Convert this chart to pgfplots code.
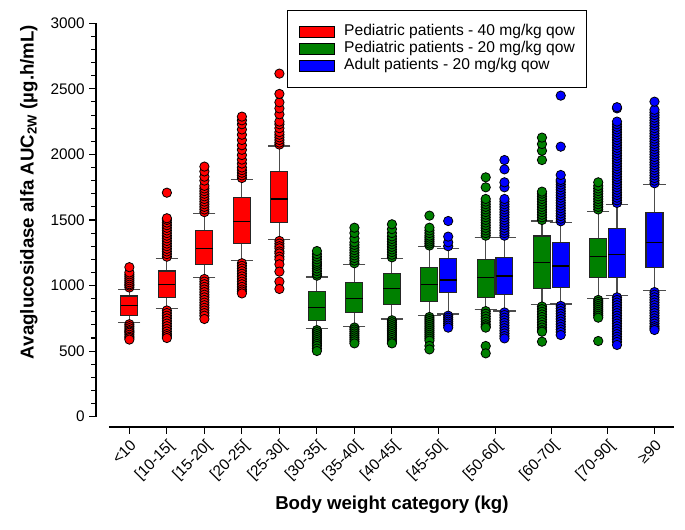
\documentclass[border=0pt]{standalone}
\usepackage{fontspec}
\setmainfont{Liberation Sans}
\usepackage{pgfplots}
\pgfplotsset{compat=1.18}
\usepgfplotslibrary{statistics}
\definecolor{cred}{RGB}{255,0,0}
\definecolor{cgreen}{RGB}{0,128,0}
\definecolor{cblue}{RGB}{0,0,255}
\pgfplotsset{
  bx/.style={draw=black!85, line width=0.8pt, fill=#1, mark=*, mark size=3.5pt,
    mark options={fill=#1, draw=black, line width=0.6pt, solid},
    boxplot/draw direction=y,
    boxplot/box extend=0.453, boxplot/whisker extend=0.59,
    boxplot/every median/.style={black, line width=0.8pt},
    boxplot/every whisker/.style={black!70, line width=0.8pt},
    forget plot},
}
\begin{document}
\begin{tikzpicture}
\begin{axis}[
  at={(72pt,77.25pt)}, anchor=south west,
  scale only axis, width=433.5pt, height=302.8pt,
  xmin=-0.89, xmax=14.52, ymin=-78.6, ymax=3000,
  axis x line*=bottom, axis y line*=left,
  axis line style={draw=none},
  clip=false,
  tick align=outside,
  major tick length=5pt, minor tick length=3.5pt,
  every tick/.style={black, line width=0.8pt},
  ytick={0,500,...,3000}, minor y tick num=4,
  scaled y ticks=false,
  /pgf/number format/assume math mode=true,
  /pgf/number format/1000 sep={},
  yticklabel style={font=\fontsize{11.5}{13}\selectfont},
  xtick={0,1,2,3,4,5,6,7,8.25,9.75,11.25,12.75,14},
  xticklabels={{<10},{[10-15[},{[15-20[},{[20-25[},{[25-30[},{[30-35[},{[35-40[},{[40-45[},{[45-50[},{[50-60[},{[60-70[},{[70-90[},{≥90}},
  xticklabel style={font=\fontsize{11.5}{13}\selectfont, rotate=45, anchor=north east, inner sep=2.5pt},
  xlabel={\textbf{Body weight category (kg)}},
  ylabel={\textbf{Avaglucosidase alfa AUC\textsubscript{2W} (µg.h/mL)}},
  label style={font=\fontsize{14}{16}\selectfont},
  xlabel style={at={(axis description cs:0.512,-0.193)}, anchor=center},
  ylabel style={at={(axis description cs:-0.116,0.582)}, anchor=center},
  legend style={at={(0.331,1.033)}, anchor=north west, draw=black, line width=0.75pt,
    font=\fontsize{11.7}{13}\selectfont, inner xsep=8.7pt, inner ysep=9.6pt,
    row sep=0pt, nodes={inner xsep=0pt, inner ysep=0pt, text height=9.3pt, text depth=3.45pt},
    /tikz/every odd column/.append style={column sep=6.75pt}},
  legend cell align=left,
]
\addlegendimage{legend image code/.code={\draw[fill=cred,draw=black,line width=0.6pt] (0pt,-4.1pt) rectangle (26.25pt,4.1pt);}}
\addlegendentry{Pediatric patients - 40 mg/kg qow}
\addlegendimage{legend image code/.code={\draw[fill=cgreen,draw=black,line width=0.6pt] (0pt,-4.1pt) rectangle (26.25pt,4.1pt);}}
\addlegendentry{Pediatric patients - 20 mg/kg qow}
\addlegendimage{legend image code/.code={\draw[fill=cblue,draw=black,line width=0.6pt] (0pt,-4.1pt) rectangle (26.25pt,4.1pt);}}
\addlegendentry{Adult patients - 20 mg/kg qow}

% axis lines
\draw[black, line width=1pt] (axis cs:-0.89,0) -- (axis cs:-0.89,3000);
\draw[black, line width=1pt] (axis cs:-0.544,-78.6) -- (axis cs:14.52,-78.6);

% <10
\addplot[bx=cred, boxplot prepared={draw position=0, lower whisker=720, lower quartile=770, median=846, upper quartile=920, upper whisker=969}]
 table[row sep=\\, y index=0]{v\\985\\1000\\1010\\1025\\1040\\1055\\1070\\1085\\1100\\1140\\705\\690\\675\\660\\650\\640\\625\\610\\600\\588\\};
% [10-15[
\addplot[bx=cred, boxplot prepared={draw position=1, lower whisker=826, lower quartile=907, median=1009, upper quartile=1111, upper whisker=1207}]
 table[row sep=\\, y index=0]{v\\1220\\1240\\1260\\1280\\1300\\1320\\1340\\1360\\1380\\1400\\1420\\1440\\1460\\1480\\1500\\1513\\1708\\810\\790\\770\\750\\730\\710\\690\\670\\650\\630\\615\\600\\};
% [15-20[
\addplot[bx=cred, boxplot prepared={draw position=2, lower whisker=1060, lower quartile=1162, median=1284, upper quartile=1418, upper whisker=1548}]
 table[row sep=\\, y index=0]{v\\1560\\1580\\1600\\1620\\1640\\1660\\1680\\1700\\1720\\1740\\1760\\1800\\1830\\1870\\1907\\1050\\1030\\1010\\990\\970\\950\\930\\910\\890\\870\\850\\830\\810\\790\\770\\745\\};
% [20-25[
\addplot[bx=cred, boxplot prepared={draw position=3, lower whisker=1192, lower quartile=1322, median=1487, upper quartile=1670, upper whisker=1807}]
 table[row sep=\\, y index=0]{v\\1820\\1840\\1860\\1880\\1900\\1930\\1960\\1995\\2035\\2070\\2110\\2150\\2190\\2230\\2260\\2288\\1170\\1150\\1130\\1110\\1090\\1070\\1050\\1030\\1010\\990\\970\\955\\940\\};
% [25-30[
\addplot[bx=cred, boxplot prepared={draw position=4, lower whisker=1352, lower quartile=1479, median=1660, upper quartile=1868, upper whisker=2064}]
 table[row sep=\\, y index=0]{v\\2075\\2090\\2110\\2130\\2150\\2170\\2200\\2230\\2250\\2306\\2351\\2397\\2461\\2616\\1340\\1320\\1300\\1284\\1260\\1245\\1220\\1200\\1162\\1106\\1030\\974\\};
% [30-35[
\addplot[bx=cgreen, boxplot prepared={draw position=5, lower whisker=674, lower quartile=732, median=834, upper quartile=953, upper whisker=1065}]
 table[row sep=\\, y index=0]{v\\1075\\1090\\1110\\1130\\1150\\1165\\1180\\1200\\1220\\1240\\1263\\660\\645\\630\\615\\600\\585\\570\\555\\540\\520\\501\\};
% [35-40[
\addplot[bx=cgreen, boxplot prepared={draw position=6, lower whisker=691, lower quartile=796, median=902, upper quartile=1022, upper whisker=1162}]
 table[row sep=\\, y index=0]{v\\1170\\1190\\1210\\1230\\1250\\1270\\1290\\1310\\1330\\1360\\1400\\1441\\680\\665\\650\\635\\620\\605\\590\\575\\559\\};
% [40-45[
\addplot[bx=cgreen, boxplot prepared={draw position=7, lower whisker=745, lower quartile=857, median=974, upper quartile=1093, upper whisker=1207}]
 table[row sep=\\, y index=0]{v\\1215\\1235\\1255\\1275\\1295\\1315\\1335\\1355\\1375\\1400\\1430\\1467\\735\\720\\705\\690\\675\\660\\645\\630\\615\\600\\585\\570\\559\\};
% [45-50[
\addplot[bx=cgreen, boxplot prepared={draw position=8, lower whisker=770, lower quartile=877, median=1009, upper quartile=1139, upper whisker=1296}]
 table[row sep=\\, y index=0]{v\\1305\\1320\\1335\\1350\\1365\\1380\\1400\\1420\\1441\\1533\\760\\745\\730\\715\\700\\685\\670\\655\\640\\625\\610\\595\\580\\540\\513\\};
\addplot[bx=cblue, boxplot prepared={draw position=8.5, lower whisker=783, lower quartile=946, median=1042, upper quartile=1207, upper whisker=1284}]
 table[row sep=\\, y index=0]{v\\1300\\1330\\1373\\1492\\770\\755\\740\\725\\710\\695\\679\\};
% [50-60[
\addplot[bx=cgreen, boxplot prepared={draw position=9.5, lower whisker=818, lower quartile=907, median=1060, upper quartile=1200, upper whisker=1365}]
 table[row sep=\\, y index=0]{v\\1380\\1400\\1420\\1440\\1460\\1480\\1500\\1520\\1540\\1560\\1580\\1600\\1620\\1640\\1660\\1749\\1825\\805\\785\\765\\745\\725\\705\\690\\679\\539\\483\\};
\addplot[bx=cblue, boxplot prepared={draw position=10, lower whisker=806, lower quartile=933, median=1073, upper quartile=1213, upper whisker=1368}]
 table[row sep=\\, y index=0]{v\\1380\\1400\\1420\\1440\\1460\\1480\\1500\\1520\\1540\\1560\\1580\\1600\\1620\\1640\\1660\\1749\\1787\\1886\\1957\\795\\775\\755\\735\\715\\695\\675\\655\\635\\615\\597\\};
% [60-70[
\addplot[bx=cgreen, boxplot prepared={draw position=11, lower whisker=852, lower quartile=979, median=1174, upper quartile=1378, upper whisker=1492}]
 table[row sep=\\, y index=0]{v\\1500\\1520\\1540\\1560\\1580\\1600\\1620\\1640\\1660\\1680\\1700\\1716\\1957\\2028\\2079\\2128\\840\\820\\800\\780\\760\\740\\720\\700\\680\\660\\648\\572\\};
\addplot[bx=cblue, boxplot prepared={draw position=11.5, lower whisker=859, lower quartile=986, median=1149, upper quartile=1327, upper whisker=1479}]
 table[row sep=\\, y index=0]{v\\1490\\1510\\1530\\1550\\1570\\1590\\1610\\1630\\1650\\1670\\1690\\1710\\1730\\1750\\1770\\1790\\1805\\1843\\2059\\2448\\845\\825\\805\\785\\765\\745\\725\\705\\685\\665\\645\\623\\};
% [70-90[
\addplot[bx=cgreen, boxplot prepared={draw position=12.5, lower whisker=902, lower quartile=1063, median=1220, upper quartile=1360, upper whisker=1568}]
 table[row sep=\\, y index=0]{v\\1580\\1600\\1620\\1640\\1660\\1680\\1700\\1720\\1740\\1760\\1787\\890\\875\\860\\845\\830\\815\\800\\785\\770\\755\\577\\};
\addplot[bx=cblue, boxplot prepared={draw position=13, lower whisker=923, lower quartile=1063, median=1238, upper quartile=1436, upper whisker=1619}]
 table[row sep=\\, y index=0]{v\\1630\\1650\\1670\\1690\\1710\\1730\\1750\\1770\\1790\\1810\\1830\\1850\\1870\\1890\\1910\\1930\\1950\\1970\\1990\\2010\\2030\\2050\\2070\\2090\\2110\\2130\\2150\\2170\\2190\\2210\\2230\\2250\\2351\\2360\\910\\890\\870\\850\\830\\810\\790\\770\\750\\730\\710\\690\\670\\650\\630\\610\\590\\570\\547\\};
% >=90
\addplot[bx=cblue, boxplot prepared={draw position=14, lower whisker=961, lower quartile=1139, median=1327, upper quartile=1556, upper whisker=1772}]
 table[row sep=\\, y index=0]{v\\1780\\1800\\1820\\1840\\1860\\1880\\1900\\1920\\1940\\1960\\1980\\2000\\2020\\2040\\2060\\2080\\2100\\2120\\2140\\2160\\2180\\2200\\2220\\2240\\2260\\2280\\2300\\2320\\2340\\2402\\950\\930\\910\\890\\870\\850\\830\\810\\790\\770\\750\\730\\710\\690\\675\\661\\};
\end{axis}
\pgfresetboundingbox
\useasboundingbox (0,0) rectangle (513.75pt,397.5pt);
\end{tikzpicture}
\end{document}
